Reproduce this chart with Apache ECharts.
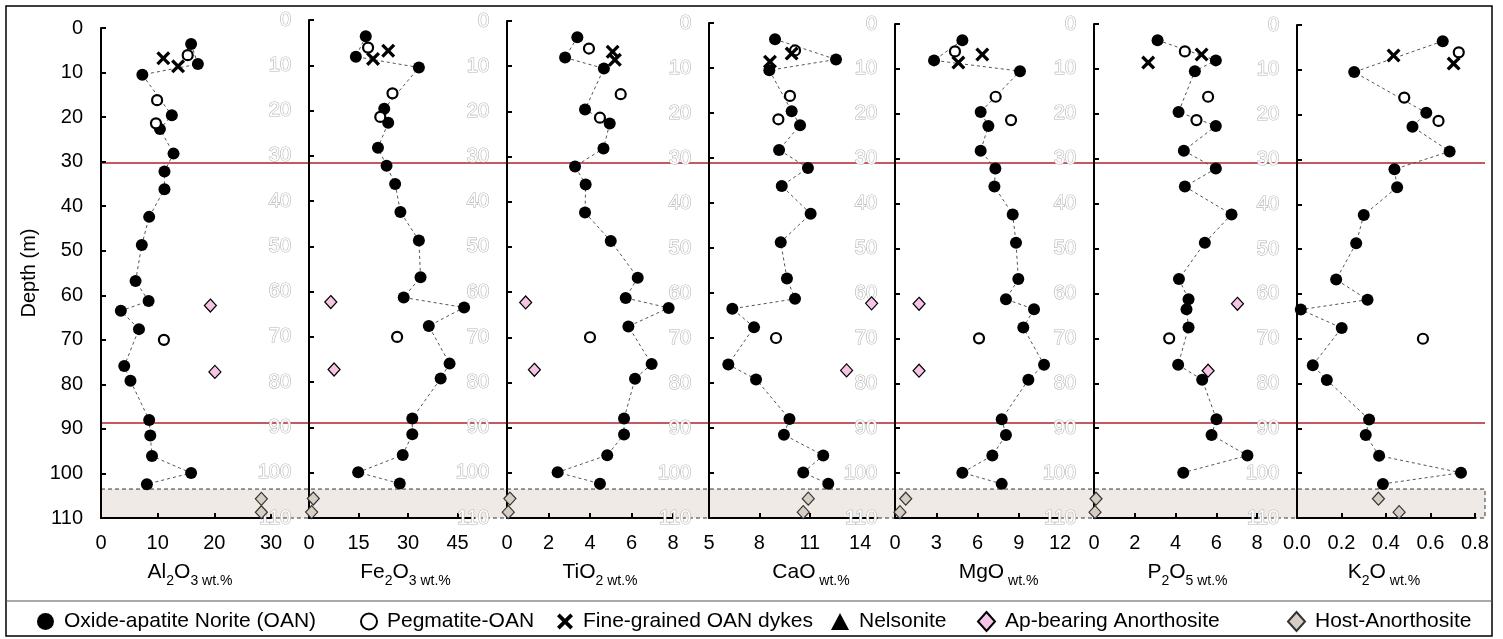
<!DOCTYPE html>
<html><head><meta charset="utf-8">
<script src="https://cdn.jsdelivr.net/npm/echarts@6/dist/echarts.min.js"></script>
<style>html,body{margin:0;padding:0;background:#fff}#c{width:1503px;height:639px}</style>
</head><body><div id="c"></div>
<script>
// ---------- depths (m) ----------
const depthOAN  = [3.6, 8.1, 10.5, 19.6, 22.7, 28.2, 32.2, 36.2, 42.4, 48.7, 56.8, 61.3, 63.5, 67.6, 75.9, 79.2, 88.0, 91.5, 96.1, 99.9, 102.4];
const depthPeg  = [6.1, 16.2, 21.4, 70.0];
const depthDyke = [6.8, 8.6];
const depthAp   = [62.3, 77.2];
const depthHost = [105.7, 108.7];
const boundaryDepths = [30.3, 88.7];
const hostZone = [103.5, 110];
const depthTicks = [0,10,20,30,40,50,60,70,80,90,100,110];

// ---------- Al2O3 ----------
const al2o3OAN  = [15.9, 17.1, 7.3, 12.5, 10.4, 12.8, 11.2, 11.2, 8.5, 7.2, 6.1, 8.4, 3.5, 6.7, 4.1, 5.2, 8.5, 8.7, 9.0, 15.9, 8.1];
const al2o3Peg  = [15.3, 9.9, 9.7, 11.1];
const al2o3Dyke = [11.0, 13.6];
const al2o3Ap   = [19.3, 20.1];
const al2o3Host = [28.3, 28.3];
const al2o3Ticks = [0, 10, 20, 30];
// ---------- Fe2O3 ----------
const fe2o3OAN  = [17.2, 14.2, 33.3, 22.8, 24.0, 20.9, 23.5, 26.1, 27.7, 33.3, 33.8, 28.7, 47.0, 36.3, 42.6, 39.9, 31.3, 31.3, 28.4, 14.9, 27.5];
const fe2o3Peg  = [17.9, 25.3, 21.6, 26.7];
const fe2o3Dyke = [24.0, 19.4];
const fe2o3Ap   = [6.6, 7.6];
const fe2o3Host = [1.3, 0.8];
const fe2o3Ticks = [0, 15, 30, 45];
// ---------- TiO2 ----------
const tio2OAN  = [3.39, 2.80, 4.67, 3.76, 4.95, 4.65, 3.28, 3.79, 3.76, 5.0, 6.30, 5.72, 7.79, 5.85, 6.97, 6.17, 5.64, 5.64, 4.83, 2.44, 4.48];
const tio2Peg  = [3.95, 5.48, 4.48, 4.0];
const tio2Dyke = [5.09, 5.2];
const tio2Ap   = [0.90, 1.32];
const tio2Host = [0.14, 0.06];
const tio2Ticks = [0, 2, 4, 6, 8];
// ---------- CaO ----------
const caoOAN  = [8.93, 12.56, 8.59, 9.92, 10.42, 9.17, 10.89, 9.33, 11.05, 9.27, 9.64, 10.12, 6.39, 7.68, 6.15, 7.80, 9.79, 9.46, 11.80, 10.61, 12.10];
const caoPeg  = [10.12, 9.82, 9.13, 8.99];
const caoDyke = [9.92, 8.63];
const caoAp   = [14.68, 13.19];
const caoHost = [10.91, 10.61];
const caoTicks = [5, 8, 11, 14];
// ---------- MgO ----------
const mgoOAN  = [4.90, 2.84, 9.09, 6.23, 6.79, 6.23, 7.30, 7.23, 8.56, 8.80, 8.97, 8.07, 10.11, 9.33, 10.84, 9.70, 7.76, 8.07, 7.08, 4.90, 7.76];
const mgoPeg  = [4.36, 7.32, 8.44, 6.11];
const mgoDyke = [6.35, 4.61];
const mgoAp   = [1.75, 1.75];
const mgoHost = [0.78, 0.36];
const mgoTicks = [0, 3, 6, 9, 12];
// ---------- P2O5 ----------
const p2o5OAN  = [3.12, 5.98, 4.95, 4.15, 5.98, 4.41, 5.98, 4.46, 6.75, 5.44, 4.17, 4.64, 4.54, 4.64, 4.13, 5.31, 6.01, 5.77, 7.53, 4.38, null];
const p2o5Peg  = [4.46, 5.60, 5.03, 3.69];
const p2o5Dyke = [5.28, 2.66];
const p2o5Ap   = [7.04, 5.6];
const p2o5Host = [0.1, 0.05];
const p2o5Ticks = [0, 2, 4, 6, 8];
// ---------- K2O ----------
const k2oOAN  = [0.655, null, 0.257, 0.581, 0.519, 0.686, 0.438, 0.450, 0.300, 0.266, 0.176, 0.317, 0.017, 0.201, 0.071, 0.134, 0.324, 0.309, 0.369, 0.737, 0.386];
const k2oPeg  = [0.727, 0.482, 0.636, 0.566];
const k2oDyke = [0.434, 0.704];
const k2oAp   = [null, null];
const k2oHost = [0.366, 0.459];
const k2oTicks = [0, 0.2, 0.4, 0.6, 0.8];

const legendNames = ['Oxide-apatite Norite (OAN)', 'Pegmatite-OAN', 'Fine-grained OAN dykes', 'Nelsonite', 'Ap-bearing Anorthosite', 'Host-Anorthosite'];

// ---------- panel layout ----------
const FONT = "'Liberation Sans', Arial, sans-serif";
const panels = [
  {el:'Al', sub1:'2', el2:'O', sub2:'3', min:0, max:30,  ticks:al2o3Ticks, left:101,  width:170, top:28, shift:4,  oan:al2o3OAN, peg:al2o3Peg, dyke:al2o3Dyke, ap:al2o3Ap, host:al2o3Host},
  {el:'Fe', sub1:'2', el2:'O', sub2:'3', min:0, max:50,  ticks:fe2o3Ticks, left:309,  width:165, top:20, shift:14, oan:fe2o3OAN, peg:fe2o3Peg, dyke:fe2o3Dyke, ap:fe2o3Ap, host:fe2o3Host},
  {el:'TiO', sub1:'2', el2:'', sub2:'', min:0, max:8,    ticks:tio2Ticks,  left:507,  width:166, top:21, shift:10, oan:tio2OAN, peg:tio2Peg, dyke:tio2Dyke, ap:tio2Ap, host:tio2Host},
  {el:'CaO', sub1:'', el2:'', sub2:'', min:5, max:15,    ticks:caoTicks,   left:709,  width:168, top:23, shift:18, oan:caoOAN, peg:caoPeg, dyke:caoDyke, ap:caoAp, host:caoHost},
  {el:'MgO', sub1:'', el2:'', sub2:'', min:0, max:12,    ticks:mgoTicks,   left:895,  width:165, top:24, shift:21, oan:mgoOAN, peg:mgoPeg, dyke:mgoDyke, ap:mgoAp, host:mgoHost},
  {el:'P', sub1:'2', el2:'O', sub2:'5', min:0, max:8,    ticks:p2o5Ticks,  left:1094, width:163, top:24, shift:12, oan:p2o5OAN, peg:p2o5Peg, dyke:p2o5Dyke, ap:p2o5Ap, host:p2o5Host},
  {el:'K', sub1:'2', el2:'O', sub2:'', min:0, max:0.8,   ticks:k2oTicks,   left:1297, width:178, top:25, shift:-2, oan:k2oOAN, peg:k2oPeg, dyke:k2oDyke, ap:k2oAp, host:k2oHost}
];
const BOTTOM = 121;

const crossPath = 'path://M0,2 L2,0 L6,4 L10,0 L12,2 L8,6 L12,10 L10,12 L6,8 L2,12 L0,10 L4,6 Z';

function pairs(vals, depths) {
  const out = [];
  vals.forEach((v, k) => { if (v !== null && v !== undefined) out.push([v, depths[k]]); });
  return out;
}
function titleOf(p) {
  let s = '{m|' + p.el + '}';
  if (p.sub1) s += '{s|' + p.sub1 + '}';
  if (p.el2) s += '{m|' + p.el2 + '}';
  if (p.sub2) s += '{s|' + p.sub2 + '}';
  s += '{w| wt.%}';
  return s;
}

const grids = [], xAxes = [], yAxes = [], series = [];
panels.forEach((p, i) => {
  grids.push({left: p.left, width: p.width, top: p.top, bottom: BOTTOM, containLabel: false});
  const pad = p.shift >= 0 ? [0, 0, 0, 2 * p.shift] : [0, -2 * p.shift, 0, 0];
  xAxes.push({
    gridIndex: i, type: 'value', min: p.min, max: p.max, z: 3,
    axisLine: {show: true, onZero: false, lineStyle: {color: '#000', width: 2}},
    axisTick: {show: true, inside: true, length: 5, lineStyle: {color: '#000', width: 2}, customValues: p.ticks},
    axisLabel: {show: true, customValues: p.ticks, color: '#000', fontSize: 20, fontFamily: FONT, margin: 15,
      formatter: v => (p.max < 1 ? v.toFixed(1) : String(v))},
    splitLine: {show: false},
    name: titleOf(p), nameLocation: 'middle', nameGap: 44,
    nameTextStyle: {
      fontFamily: FONT, color: '#000', padding: pad,
      rich: {
        m: {fontSize: 21, fontFamily: FONT, color: '#000', verticalAlign: 'bottom', padding: [0, 0, 5, 0]},
        s: {fontSize: 14, fontFamily: FONT, color: '#000', verticalAlign: 'bottom'},
        w: {fontSize: 14, fontFamily: FONT, color: '#000', verticalAlign: 'bottom'}
      }
    }
  });
  const first = i === 0;
  yAxes.push({
    gridIndex: i, type: 'value', inverse: true, min: 0, max: 110, interval: 10, z: 3,
    axisLine: {show: true, onZero: false, lineStyle: {color: '#000', width: 2}},
    axisTick: {show: true, inside: true, length: 5, lineStyle: {color: '#000', width: 2}},
    axisLabel: first
      ? {color: '#000', fontSize: 20, fontFamily: FONT, margin: 18}
      : {color: '#fff', textBorderColor: '#b4b4b4', textBorderWidth: 1.2, fontSize: 20, fontFamily: FONT, margin: 18},
    splitLine: {show: false},
    name: first ? 'Depth (m)' : '', nameLocation: 'middle', nameRotate: 90, nameGap: 62,
    nameTextStyle: {fontSize: 20, fontFamily: FONT, color: '#000'}
  });
  series.push({
    name: legendNames[0], type: 'line', xAxisIndex: i, yAxisIndex: i, z: 4,
    data: pairs(p.oan, depthOAN), connectNulls: true,
    symbol: 'circle', symbolSize: 12, showSymbol: true,
    itemStyle: {color: '#000', opacity: 1},
    lineStyle: {color: '#555', width: 1, type: [3, 3]},
    emphasis: {disabled: true}, animation: false
  });
  series.push({
    name: legendNames[1], type: 'scatter', xAxisIndex: i, yAxisIndex: i, z: 4,
    data: pairs(p.peg, depthPeg), symbol: 'circle', symbolSize: 10,
    itemStyle: {color: '#fff', borderColor: '#000', borderWidth: 2.2, opacity: 1},
    emphasis: {disabled: true}, animation: false
  });
  series.push({
    name: legendNames[2], type: 'scatter', xAxisIndex: i, yAxisIndex: i, z: 5,
    data: pairs(p.dyke, depthDyke), symbol: crossPath, symbolSize: 14,
    itemStyle: {color: '#000', opacity: 1},
    emphasis: {disabled: true}, animation: false
  });
  series.push({
    name: legendNames[3], type: 'scatter', xAxisIndex: i, yAxisIndex: i, z: 4,
    data: [], symbol: 'triangle', symbolSize: 12, itemStyle: {color: '#000', opacity: 1}, animation: false
  });
  series.push({
    name: legendNames[4], type: 'scatter', xAxisIndex: i, yAxisIndex: i, z: 4,
    data: pairs(p.ap, depthAp), symbol: 'diamond', symbolSize: [12, 13],
    itemStyle: {color: '#f7c4e6', borderColor: '#000', borderWidth: 1.2, opacity: 1},
    emphasis: {disabled: true}, animation: false
  });
  series.push({
    name: legendNames[5], type: 'scatter', xAxisIndex: i, yAxisIndex: i, z: 4,
    data: pairs(p.host, depthHost), symbol: 'diamond', symbolSize: [12, 13],
    itemStyle: {color: '#d8cdc2', borderColor: '#333', borderWidth: 1.2, opacity: 1},
    emphasis: {disabled: true}, animation: false
  });
});

// overlay grid for zone boundaries and host-anorthosite zone
const ov = panels.length;
grids.push({left: 101, right: 18, top: 28, bottom: BOTTOM});
xAxes.push({gridIndex: ov, type: 'value', min: 0, max: 1, show: false});
yAxes.push({gridIndex: ov, type: 'value', inverse: true, min: 0, max: 110, show: false});
series.push({
  type: 'line', xAxisIndex: ov, yAxisIndex: ov, data: [[0, 0]], symbol: 'none', silent: true,
  lineStyle: {opacity: 0}, z: 1, animation: false,
  markArea: {silent: true, z: 1, itemStyle: {color: '#efeae6', borderColor: '#333', borderWidth: 1, borderType: [4, 3]},
    data: [[{yAxis: hostZone[0]}, {yAxis: hostZone[1]}]]}
});
series.push({
  type: 'line', xAxisIndex: ov, yAxisIndex: ov, data: [[0, 0]], symbol: 'none', silent: true,
  lineStyle: {opacity: 0}, z: 3, animation: false,
  markLine: {silent: true, z: 3, symbol: ['none', 'none'], label: {show: false},
    lineStyle: {color: '#b0222a', type: 'solid', width: 1.5},
    data: boundaryDepths.map(d => ({yAxis: d}))}
});

// legends, one per item
const legendPos = [
  {name: legendNames[0], left: 37, w: 17, h: 17, icon: 'circle'},
  {name: legendNames[1], left: 360, w: 16, h: 16},
  {name: legendNames[2], left: 557, w: 16, h: 16},
  {name: legendNames[3], left: 831, w: 18, h: 17},
  {name: legendNames[4], left: 977, w: 17, h: 19},
  {name: legendNames[5], left: 1287, w: 17, h: 19}
];
const legends = legendPos.map(l => {
  const o = {
    data: [l.name], left: l.left, top: 611, padding: 0, itemWidth: l.w, itemHeight: l.h,
    selectedMode: false,
    textStyle: {fontSize: 21, fontFamily: FONT, color: '#000', padding: [0, 0, 0, 5]}
  };
  if (l.icon) o.icon = l.icon;
  return o;
});

const chart = echarts.init(document.getElementById('c'), null, {renderer: 'canvas'});
chart.setOption({
  backgroundColor: '#fff',
  animation: false,
  grid: grids, xAxis: xAxes, yAxis: yAxes, series: series,
  legend: legends,
  graphic: [
    {type: 'rect', shape: {x: 6, y: 6, width: 1486, height: 630}, style: {fill: 'none', stroke: '#000', lineWidth: 1.5}, silent: true, z: 10},
    {type: 'line', shape: {x1: 6, y1: 601, x2: 1492, y2: 601}, style: {stroke: '#555', lineWidth: 1.2}, silent: true, z: 10}
  ]
});
</script></body></html>
